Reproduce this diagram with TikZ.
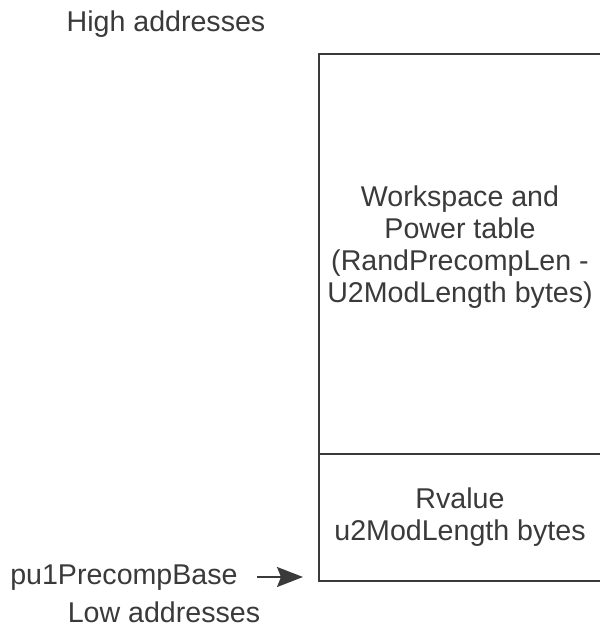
\documentclass[tikz,border=0pt]{standalone}
\usepackage{fontspec}
\setmainfont{Liberation Sans}
\usetikzlibrary{arrows.meta}
\definecolor{inkgray}{HTML}{3A3A3A}
\tikzset{
  memtext/.style={text=inkgray, align=center, inner sep=0pt, font=\fontsize{14.3}{16}\selectfont},
  memline/.style={draw=inkgray, line width=0.9pt}
}
\begin{document}
\begin{tikzpicture}[x=0.5pt,y=-0.5pt]
  \useasboundingbox (0,0) rectangle (600,632);
  % memory block, open on the right
  \draw[memline] (600,54) -- (319,54) -- (319,581) -- (600,581);
  \draw[memline] (319,454) -- (600,454);
  \node[memtext] (high) at (166,24) {High addresses};
  \node[memtext] (work) at (460,247) {Workspace and\\Power table\\(RandPrecompLen -\\U2ModLength bytes)};
  \node[memtext] (rval) at (460,517) {Rvalue\\u2ModLength bytes};
  \node[memtext, anchor=east] (base) at (238,578) {pu1PrecompBase};
  \node[memtext] (low) at (164,612) {Low addresses};
  \coordinate (tip) at (303,577);
  \draw[memline, -{Stealth[length=13,width=10,inset=2]}] (base.east) ++(19,-1) coordinate (tail) -- (tip);
\end{tikzpicture}
\end{document}
